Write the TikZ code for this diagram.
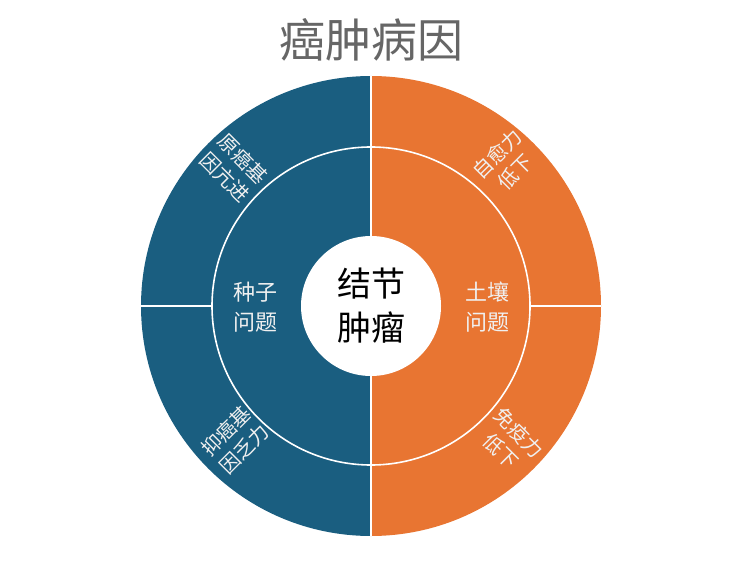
\documentclass[tikz,border=0pt]{standalone}
\usepackage{fontspec}
\setmainfont{Noto Sans CJK SC}
\usetikzlibrary{calc}
\definecolor{seedblue}{HTML}{1A5E80}
\definecolor{soilorange}{HTML}{E87532}
\tikzset{
  ringtxt/.style={text=white!88!gray,font=\fontsize{22}{30}\selectfont,align=center,inner sep=0pt},
  outertxt/.style={text=white!88!gray,font=\fontsize{20}{26}\selectfont,align=center,inner sep=0pt},
  sep/.style={white,line width=1.6pt}
}
\begin{document}
\begin{tikzpicture}[x=1pt,y=1pt]
\useasboundingbox (0,0) rectangle (751,-561);
\coordinate (c) at (371,-306);
% halves
\fill[seedblue] (c) ++(0,230) arc (90:270:230) -- cycle;
\fill[soilorange] (c) ++(0,-230) arc (-90:90:230) -- cycle;
% separators
\draw[sep] (c) circle [radius=159];
\draw[sep] ($(c)+(0,230)$) -- ($(c)+(0,-230)$);
\draw[sep] ($(c)+(-230,0)$) -- ($(c)+(-159,0)$);
\draw[sep] ($(c)+(159,0)$) -- ($(c)+(230,0)$);
\fill[white] (c) circle [radius=70];
% texts
\node[text=black!60,font=\fontsize{46}{50}\selectfont] (title) at (371,-40) {癌肿病因};
\node[font=\fontsize{34}{44}\selectfont,align=center,inner sep=0pt] (core) at (c) {结节\\肿瘤};
\node[ringtxt] (seed) at (255,-307) {种子\\问题};
\node[ringtxt] (soil) at (487,-307) {土壤\\问题};
\node[outertxt,rotate=-45] (onco) at (234,-168) {原癌基\\因亢进};
\node[outertxt,rotate=45] (heal) at (506,-163) {自愈力\\低下};
\node[outertxt,rotate=45] (supp) at (235,-440) {抑癌基\\因乏力};
\node[outertxt,rotate=-45] (immu) at (510,-442) {免疫力\\低下};
\end{tikzpicture}
\end{document}
